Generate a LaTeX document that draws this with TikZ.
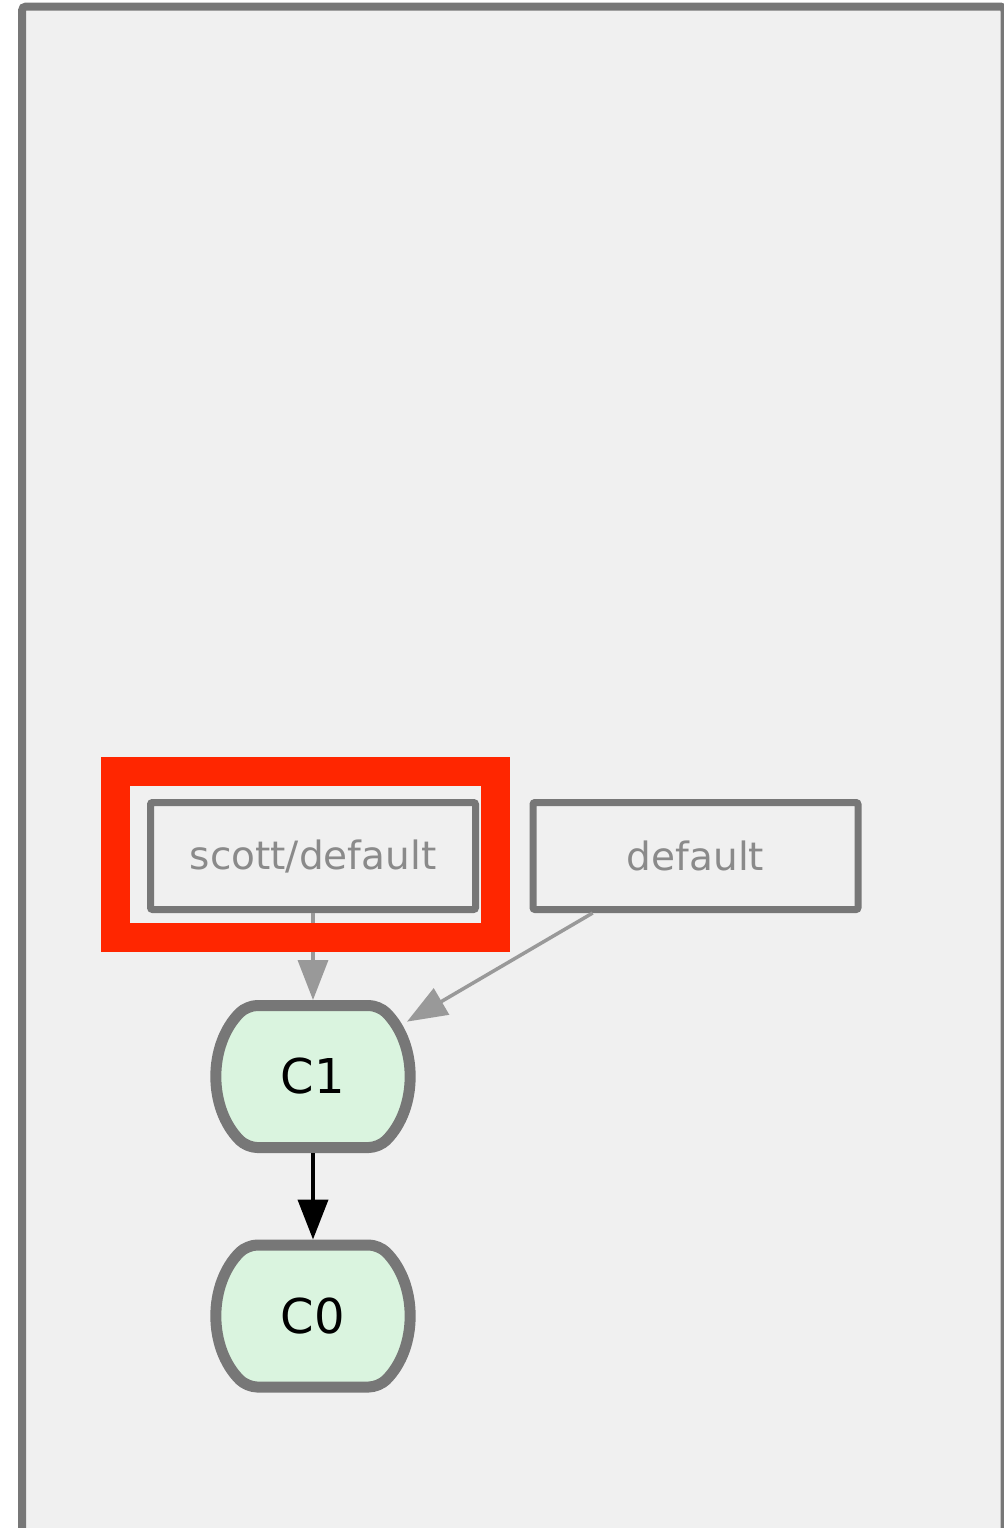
\documentclass[tikz,border=0pt]{standalone}
\usepackage{fontspec}
\usetikzlibrary{arrows.meta, backgrounds}
\newfontfamily\lblfont{DejaVu Sans}
\definecolor{frameborder}{HTML}{777777}
\definecolor{panelbg}{HTML}{F0F0F0}
\definecolor{refgray}{HTML}{8A8A8A}
\definecolor{edgegray}{HTML}{999999}
\definecolor{flagred}{HTML}{FF2600}
\definecolor{commitgreen}{HTML}{DAF4DF}

\begin{document}
\begin{tikzpicture}[
    x=0.5pt, y=-0.5pt,
    refbox/.style={
      draw=frameborder, line width=3.5pt, rounded corners=1pt,
      minimum width=162.5pt, minimum height=53.5pt,
      font=\lblfont\fontsize{19.5}{22}\selectfont, text=refgray
    },
    commit/.style={
      minimum width=94pt, minimum height=76.5pt, outer sep=0pt,
      font=\lblfont\fontsize{24}{28}\selectfont
    },
    commitline/.style={draw=frameborder, fill=commitgreen, line width=5.5pt,
      line join=round, rounded corners=5pt},
    refedge/.style={edgegray, line width=1.75pt, -{Triangle[length=20pt, width=15pt]}},
    parentedge/.style={black, line width=2pt, -{Triangle[length=20pt, width=15pt]}}
  ]
  \useasboundingbox (0,0) rectangle (1004,1528);

  \node[refbox] (scott) at (313,856) {scott/default};
  \node[refbox] (dflt) at (695.5,856) {default};
  \node[commit] (c1) at (313,1076.5) {C1};
  \node[commit] (c0) at (313,1316) {C0};

  \begin{scope}[on background layer]
    \clip (0,0) rectangle (1004,1528);
    \draw[frameborder, fill=panelbg, line width=4pt, rounded corners=2pt]
      (22,6.5) rectangle (1004.5,1545);
    % barrel outline of each commit
    \foreach \c in {c1,c0}
      \draw[commitline] ([shift={(0,-71)}]\c.center) -- ([shift={(66,-71)}]\c.center)
        arc[start angle=-45, end angle=45, radius=100.4]
        -- ([shift={(-66,71)}]\c.center)
        arc[start angle=135, end angle=225, radius=100.4] -- cycle;
  \end{scope}

  \draw[refedge] (scott) -- (c1);
  \draw[refedge] (dflt.209.6) -- (c1);
  \draw[parentedge] (c1) -- (c0);

  % highlight round the checked-out ref
  \draw[flagred, line width=14.5pt] (115.5,771.5) rectangle (495.5,937.5);
\end{tikzpicture}
\end{document}
